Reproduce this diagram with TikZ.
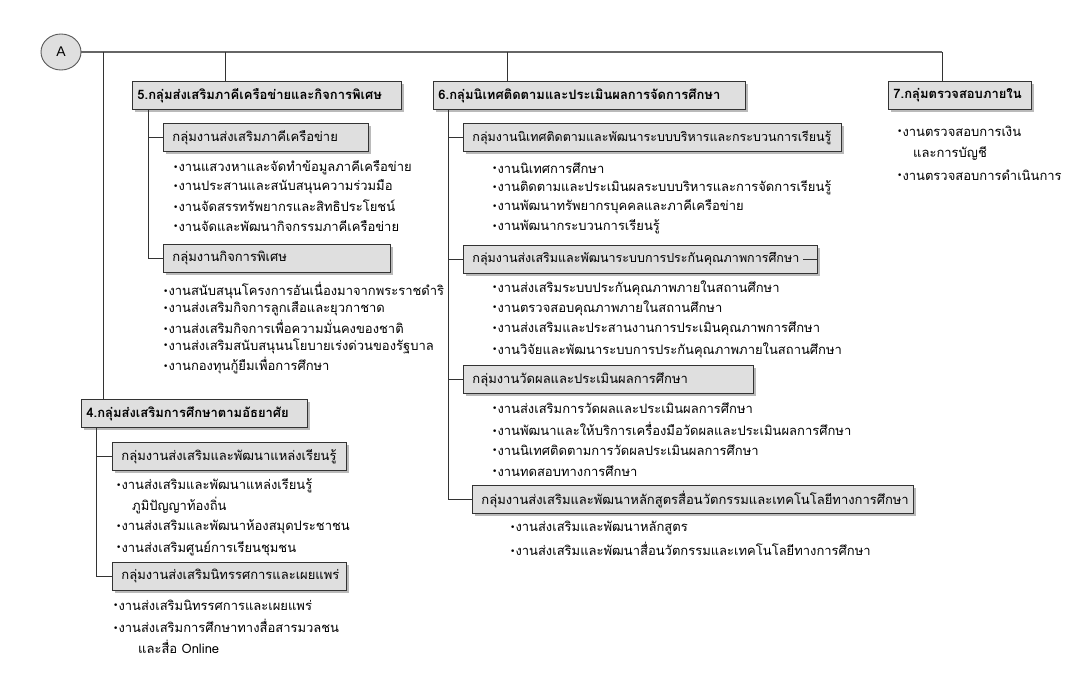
\documentclass[tikz,border=0pt]{standalone}
\usepackage{fontspec}
\setmainfont{Loma}[Script=Thai]
\newfontfamily\bulfont{DejaVu Sans}
\newfontfamily\latinfont{Liberation Sans}
\usetikzlibrary{shapes.geometric,shadows}
\newcommand\bul{\raisebox{1.5pt}{\bulfont\fontsize{9}{9}\selectfont •}}
\newcommand\txtsize{\fontsize{13}{21}\selectfont}
\newcommand\smtxtsize{\fontsize{12.5}{21}\selectfont}
\tikzset{
  bus/.style={draw=black!60, line width=1.8pt},
  conn/.style={draw=black!80, line width=0.9pt},
  boxbase/.style={rectangle, draw=black!80, fill=gray!25, line width=0.9pt,
    anchor=north west, minimum height=28pt, inner ysep=0pt, align=left,
    drop shadow={shadow xshift=2.5pt, shadow yshift=-2.5pt, fill=black!45, opacity=0.6}},
  hbox/.style={boxbase, inner xsep=5pt, font=\txtsize\bfseries},
  sbox/.style={boxbase, inner xsep=9pt, font=\txtsize},
  item/.style={anchor=west, inner sep=0pt, align=left, font=\txtsize},
  ell/.style={ellipse, draw=black!65, fill=gray!25, line width=0.9pt,
    minimum width=40pt, minimum height=36pt, inner sep=0pt, font=\latinfont\fontsize{14}{14}\selectfont}
}
\begin{document}
\begin{tikzpicture}[x=1pt,y=-1pt]
\useasboundingbox (0,0) rectangle (1079,674);
\fill[white] (0,0) rectangle (1079,674);

% top-level node
\node[ell] (A) at (61,52) {A};

% group headers
\node[hbox, text width=259pt] (b5) at (132,81) {5.กลุ่มส่งเสริมภาคีเครือข่ายและกิจการพิเศษ};
\node[hbox, text width=302pt] (b6) at (433,81) {6.กลุ่มนิเทศติดตามและประเมินผลการจัดการศึกษา};
\node[hbox, text width=133pt] (b7) at (888,81) {7.กลุ่มตรวจสอบภายใน};
\node[hbox, text width=216pt] (b4) at (81,399) {4.กลุ่มส่งเสริมการศึกษาตามอัธยาศัย};

% sub groups
\node[sbox, text width=187pt] (s51) at (163,123) {กลุ่มงานส่งเสริมภาคีเครือข่าย};
\node[sbox, text width=209pt] (s52) at (163,244) {กลุ่มงานกิจการพิเศษ};
\node[sbox, text width=360pt, font=\smtxtsize] (s61) at (463,123) {กลุ่มงานนิเทศติดตามและพัฒนาระบบบริหารและกระบวนการเรียนรู้};
\node[sbox, text width=336pt, font=\smtxtsize] (s62) at (463,245) {กลุ่มงานส่งเสริมและพัฒนาระบบการประกันคุณภาพการศึกษา};
\node[sbox, text width=272pt] (s63) at (463,365) {กลุ่มงานวัดผลและประเมินผลการศึกษา};
\node[sbox, text width=423pt] (s64) at (472,485) {กลุ่มงานส่งเสริมและพัฒนาหลักสูตรสื่อนวัตกรรมและเทคโนโลยีทางการศึกษา};
\node[sbox, text width=216pt] (s41) at (112,442) {กลุ่มงานส่งเสริมและพัฒนาแหล่งเรียนรู้};
\node[sbox, text width=216pt] (s42) at (112,562) {กลุ่มงานส่งเสริมนิทรรศการและเผยแพร่};

% items group 5
\node[item] (i511) at (173,168) {\bul งานแสวงหาและจัดทำข้อมูลภาคีเครือข่าย};
\node[item] (i512) at (173,187) {\bul งานประสานและสนับสนุนความร่วมมือ};
\node[item] (i513) at (173,206) {\bul งานจัดสรรทรัพยากรและสิทธิประโยชน์};
\node[item] (i514) at (173,226) {\bul งานจัดและพัฒนากิจกรรมภาคีเครือข่าย};
\node[item] (i521) at (163,291) {\bul งานสนับสนุนโครงการอันเนื่องมาจากพระราชดำริ};
\node[item] (i522) at (163,309) {\bul งานส่งเสริมกิจการลูกเสือและยุวกาชาด};
\node[item] (i523) at (163,327) {\bul งานส่งเสริมกิจการเพื่อความมั่นคงของชาติ};
\node[item] (i524) at (163,346) {\bul งานส่งเสริมสนับสนุนนโยบายเร่งด่วนของรัฐบาล};
\node[item] (i525) at (163,366) {\bul งานกองทุนกู้ยืมเพื่อการศึกษา};

% items group 6
\node[item] (i611) at (492,168) {\bul งานนิเทศการศึกษา};
\node[item] (i612) at (492,188) {\bul งานติดตามและประเมินผลระบบบริหารและการจัดการเรียนรู้};
\node[item] (i613) at (492,207) {\bul งานพัฒนาทรัพยากรบุคคลและภาคีเครือข่าย};
\node[item] (i614) at (492,227) {\bul งานพัฒนากระบวนการเรียนรู้};
\node[item] (i621) at (492,288) {\bul งานส่งเสริมระบบประกันคุณภาพภายในสถานศึกษา};
\node[item] (i622) at (492,308) {\bul งานตรวจสอบคุณภาพภายในสถานศึกษา};
\node[item] (i623) at (492,329) {\bul งานส่งเสริมและประสานงานการประเมินคุณภาพการศึกษา};
\node[item] (i624) at (492,350) {\bul งานวิจัยและพัฒนาระบบการประกันคุณภาพภายในสถานศึกษา};
\node[item] (i631) at (492,408) {\bul งานส่งเสริมการวัดผลและประเมินผลการศึกษา};
\node[item] (i632) at (492,429) {\bul งานพัฒนาและให้บริการเครื่องมือวัดผลและประเมินผลการศึกษา};
\node[item] (i633) at (492,450) {\bul งานนิเทศติดตามการวัดผลประเมินผลการศึกษา};
\node[item] (i634) at (492,471) {\bul งานทดสอบทางการศึกษา};
\node[item] (i641) at (510,528) {\bul งานส่งเสริมและพัฒนาหลักสูตร};
\node[item] (i642) at (510,549) {\bul งานส่งเสริมและพัฒนาสื่อนวัตกรรมและเทคโนโลยีทางการศึกษา};

% items group 7
\node[item] (i71) at (897,143) {\bul งานตรวจสอบการเงิน\\\hspace*{16pt}และการบัญชี};
\node[item] (i72) at (897,175) {\bul งานตรวจสอบการดำเนินการ};

% items group 4
\node[item] (i411) at (116,496.5) {\bul งานส่งเสริมและพัฒนาแหล่งเรียนรู้\\\hspace*{16pt}ภูมิปัญญาท้องถิ่น};
\node[item] (i412) at (116,527) {\bul งานส่งเสริมและพัฒนาห้องสมุดประชาชน};
\node[item] (i413) at (116,548) {\bul งานส่งเสริมศูนย์การเรียนชุมชน};
\node[item] (i421) at (113,605) {\bul งานส่งเสริมนิทรรศการและเผยแพร่};
\node[item] (i422) at (113,636.5) {\bul งานส่งเสริมการศึกษาทางสื่อสารมวลชน\\\hspace*{25pt}และสื่อ Online};

% main bus
\coordinate (busE) at (942,52);
\coordinate (bus4) at (103,52);
\coordinate (bus5) at (225,52);
\coordinate (bus6) at (507,52);
\draw[bus] (A.east) -- (busE);
\draw[conn] (busE) -- (busE |- b7.north);
\draw[conn] (bus4) -- (bus4 |- b4.north);
\draw[conn] (bus5) -- (bus5 |- b5.north);
\draw[conn] (bus6) -- (bus6 |- b6.north);

% inner trees
\coordinate (x5) at (148,0);
\coordinate (x6) at (448,0);
\coordinate (x4) at (96,0);
\draw[conn] (x5 |- b5.south) |- (s52.west);
\draw[conn] (x5 |- s51.west) -- (s51.west);
\draw[conn] (x6 |- b6.south) |- (s64.west);
\draw[conn] (x6 |- s61.west) -- (s61.west);
\draw[conn] (x6 |- s62.west) -- (s62.west);
\draw[conn] (x6 |- s63.west) -- (s63.west);
\draw[conn] (x4 |- b4.south) |- (s42.west);
\draw[conn] (x4 |- s41.west) -- (s41.west);
\coordinate (s62tick) at (803,259);
\draw[conn] (s62tick) -- (s62tick -| s62.east);
\end{tikzpicture}
\end{document}
